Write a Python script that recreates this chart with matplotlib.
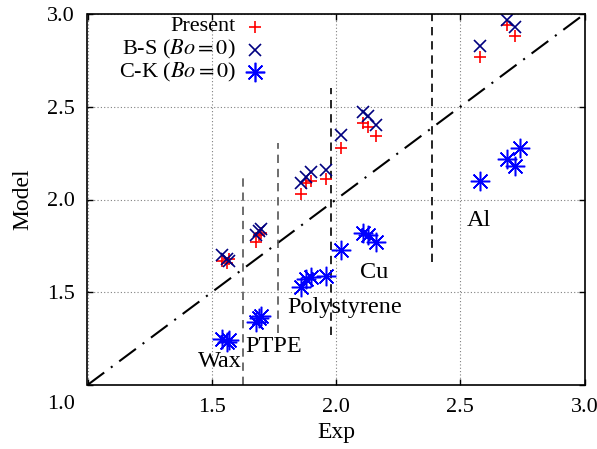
import numpy as np
import matplotlib
matplotlib.use("Agg")
import matplotlib.pyplot as plt

plt.rcParams["font.family"] = ["Liberation Serif", "DejaVu Serif"]
plt.rcParams["mathtext.fontset"] = "stix"

# measured vs model values, grouped wax / PTPE / polystyrene / Cu / Al
exp = [1.54, 1.56, 1.57,
       1.68, 1.69, 1.70,
       1.86, 1.88, 1.90, 1.96,
       2.02, 2.11, 2.13, 2.16,
       2.58, 2.69, 2.72]
present = [1.67, 1.66, 1.68,
           1.77, 1.81, 1.82,
           2.03, 2.09, 2.10, 2.11,
           2.28, 2.41, 2.39, 2.34,
           2.77, 2.94, 2.88]
bs = [1.70, 1.68, 1.67,
      1.81, 1.83, 1.84,
      2.09, 2.12, 2.15, 2.16,
      2.35, 2.47, 2.45, 2.40,
      2.83, 2.97, 2.93]
exp_ck = exp + [2.74]
ck = [1.25, 1.23, 1.24,
      1.34, 1.36, 1.37,
      1.53, 1.57, 1.58, 1.59,
      1.73, 1.82, 1.81, 1.77,
      2.10, 2.22, 2.18, 2.28]

# material names and where they are written
materials = ["Wax", "PTPE", "Polystyrene", "Cu", "Al"]
label_x = [1.533, 1.750, 2.036, 2.153, 2.577]
label_y = [1.124, 1.205, 1.420, 1.609, 1.889]

# dashed separators between groups: x, y bottom, y top
sep_x = [1.626, 1.765, 1.980, 2.386]
sep_lo = [1.0, 1.28, 1.27, 1.663]
sep_hi = [2.116, 2.305, 2.60, 3.0]
sep_col = ["#555555", "#555555", "black", "black"]

fig = plt.figure(figsize=(5.97, 4.49), dpi=100)
ax = fig.add_axes([87.5 / 597, 64 / 449, 497 / 597, 371 / 449])

ax.set_xlim(1.0, 3.0)
ax.set_ylim(1.0, 3.0)

ax.grid(True, color="gray", linestyle=(0, (1, 2)), linewidth=0.8)
ax.set_axisbelow(True)

ax.plot([1.0, 3.0], [1.0, 3.0], color="black", lw=1.5,
        linestyle=(0, (10, 4, 1, 4)))

for x, lo, hi, c in zip(sep_x, sep_lo, sep_hi, sep_col):
    ax.plot([x, x], [lo, hi], color=c, lw=1.2, linestyle=(0, (5, 3.5)))

ax.plot(exp, present, linestyle="none", marker="+", color="red",
        markersize=9, markeredgewidth=1.2)
ax.plot(exp, bs, linestyle="none", marker="x", color="#000080",
        markersize=8, markeredgewidth=1.2)
ax.plot(exp_ck, ck, linestyle="none", marker=(8, 2, 0), color="blue",
        markersize=14, markeredgewidth=1.1)

for name, x, y in zip(materials, label_x, label_y):
    ax.text(x, y, name, fontsize=17.5, ha="center", va="center")

# gnuplot style key: text right aligned, sample to the right
key = [("Present", dict(marker="+", color="red", markersize=9)),
       (r"B-S ($\mathit{Bo}=0$)", dict(marker="x", color="#000080", markersize=8)),
       (r"C-K ($\mathit{Bo}=0$)", dict(marker=(8, 2, 0), color="blue", markersize=14))]
key_y = [0.965, 0.904, 0.843]
for (txt, kw), y in zip(key, key_y):
    ax.text(0.299, y, txt, transform=ax.transAxes, fontsize=16,
            ha="right", va="center")
    ax.plot([0.337], [y], transform=ax.transAxes, linestyle="none",
            markeredgewidth=1.2, clip_on=False, **kw)

ax.set_xticks([1.0, 1.5, 2.0, 2.5, 3.0])
ax.set_xticklabels(["", "1.5", "2.0", "2.5", "3.0"])
ax.set_yticks([1.0, 1.5, 2.0, 2.5, 3.0])
ax.set_yticklabels(["", "1.5", "2.0", "2.5", "3.0"])
ax.annotate("1.0", xy=(1.0, 1.0), xytext=(-9, -14), textcoords="offset points",
            ha="right", va="center", fontsize=16, annotation_clip=False)
ax.tick_params(direction="in", top=True, right=True, length=4, width=1,
               labelsize=16, pad=9)
for s in ax.spines.values():
    s.set_linewidth(1.2)

ax.set_xlabel("Exp", fontsize=17, labelpad=4)
ax.set_ylabel("Model", fontsize=17, labelpad=10)

fig.savefig("out.png", dpi=100)
